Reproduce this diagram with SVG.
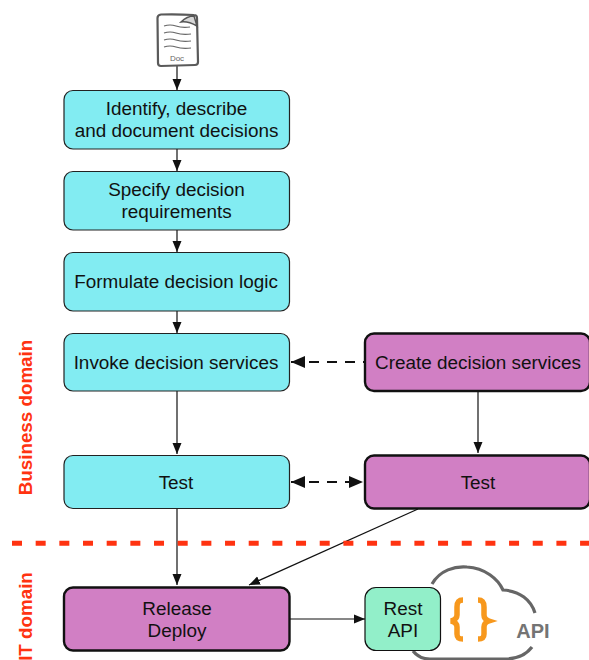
<svg xmlns="http://www.w3.org/2000/svg" width="589" height="660" viewBox="0 0 589 660">
<style>
text{font-family:"Liberation Sans",Arial,sans-serif;fill:#111}
.t{font-size:18.9px;text-anchor:middle}
.b{fill:#82ecf2;stroke:#222;stroke-width:1.2}
.p{fill:#d17fc4;stroke:#111;stroke-width:2.4}
.c{fill:none;stroke:#111;stroke-width:1.2}
.d{fill:none;stroke:#111;stroke-width:2;stroke-dasharray:10 8}
.r{font-size:18.8px;font-weight:bold;fill:#ff3311;text-anchor:middle}
</style>
<defs>
<marker id="a" markerUnits="userSpaceOnUse" markerWidth="12" markerHeight="12" refX="11" refY="5" orient="auto"><path d="M0 0.500L11 5L0 9.500Z" fill="#111"/></marker>
<marker id="s" markerUnits="userSpaceOnUse" markerWidth="16" markerHeight="14" refX="0" refY="7" orient="auto"><path d="M14 1L0 7L14 13Z" fill="#111"/></marker>
<marker id="e" markerUnits="userSpaceOnUse" markerWidth="16" markerHeight="14" refX="14" refY="7" orient="auto"><path d="M0 1L14 7L0 13Z" fill="#111"/></marker>
</defs>
<g id="connectors">
<path class="c" marker-end="url(#a)" d="M177 66V90"/>
<path class="c" marker-end="url(#a)" d="M177 149V171"/>
<path class="c" marker-end="url(#a)" d="M177 230V252"/>
<path class="c" marker-end="url(#a)" d="M177 311V333"/>
<path class="c" marker-end="url(#a)" d="M177 391V454"/>
<path class="c" marker-end="url(#a)" d="M177 509V585"/>
<path class="c" marker-end="url(#a)" d="M478 391V453"/>
<path class="c" marker-end="url(#a)" d="M418 509L249 585"/>
<path class="c" marker-end="url(#a)" d="M290 619H365"/>
<path class="d" marker-start="url(#s)" d="M291 362H365"/>
<path class="d" marker-start="url(#s)" marker-end="url(#e)" d="M291 482H363"/>
</g>
<g id="doc">
<path d="M161 14.500Q177 14 194 15Q197 15 197 18L198 62Q198 65 195 65L161 66Q158 66 158 63L157.500 18Q157.500 15 161 14.500Z" fill="#fff" stroke="#5a5a5a" stroke-width="2.200" stroke-linejoin="round"/>
<path d="M181 22Q187 16 194 16L197 26Q188 21 181 22Z" fill="#d8d8d8" stroke="#555" stroke-width="1.500"/>
<path d="M164 26Q170 24 176 26T190 27M164 33Q170 31 176 33T191 34M164 40Q170 38 176 40T191 41M164 47Q170 45 176 47T191 48" fill="none" stroke="#666" stroke-width="1.200"/>
<text x="177" y="61" font-size="8" text-anchor="middle" style="fill:#666">Doc</text>
</g>
<g id="n1"><rect class="b" x="64" y="90.500" width="225.500" height="58.500" rx="9"/><text class="t" x="176.500" y="114.500">Identify, describe</text><text class="t" x="176.500" y="136.500">and document decisions</text></g>
<g id="n2"><rect class="b" x="64" y="171.500" width="225.500" height="58.500" rx="9"/><text class="t" x="176.500" y="195.500">Specify decision</text><text class="t" x="176.500" y="217.500">requirements</text></g>
<g id="n3"><rect class="b" x="64" y="252.500" width="225.500" height="58.500" rx="9"/><text class="t" x="176" y="287.500">Formulate decision logic</text></g>
<g id="n4"><rect class="b" x="64" y="333.500" width="225.500" height="57.500" rx="9"/><text class="t" x="176" y="368.500">Invoke decision services</text></g>
<g id="n5"><rect class="b" x="64" y="455.500" width="225.500" height="53" rx="9"/><text class="t" x="176" y="488.500">Test</text></g>
<g id="n6"><rect class="p" x="365" y="333.500" width="225" height="57.500" rx="9"/><text class="t" x="478" y="368.500">Create decision services</text></g>
<g id="n7"><rect class="p" x="365" y="455.500" width="225" height="53" rx="9"/><text class="t" x="478" y="488.500">Test</text></g>
<g id="n8"><rect class="p" x="64" y="587.500" width="225.500" height="63" rx="9"/><text class="t" x="177" y="614.500">Release</text><text class="t" x="177" y="636.500">Deploy</text></g>
<g id="api">
<path d="M432 584C440 570 455 566 467 567C485 568 498 579 503 590C520 591 531 600 535 613M532 647C526 655 517 659 505 659H430C422 659 417 656 413 651" fill="none" stroke="#666" stroke-width="3.200"/>
<path d="M463 600C458 600 457 603 457 607V615C457 618 455 620 451 621C455 622 457 624 457 627V634C457 637 458 639 463 639" fill="none" stroke="#f7981d" stroke-width="5.500"/>
<path d="M478 600C483 600 484 603 484 607V615C484 618 486 620 489 621C486 622 484 624 484 627V634C484 637 483 639 478 639" fill="none" stroke="#f7981d" stroke-width="5.500"/>
<text x="533" y="638" font-size="20" font-weight="bold" text-anchor="middle" style="fill:#747474">API</text>
</g>
<g id="n9"><rect x="365" y="587.500" width="75.500" height="63" rx="11" fill="#92efc9" stroke="#111" stroke-width="1.200"/><text class="t" x="403" y="614.500">Rest</text><text class="t" x="403" y="636.500">API</text></g>
<path d="M12 543.300H589" fill="none" stroke="#ff3311" stroke-width="5" stroke-dasharray="10 13.670"/>
<text class="r" transform="translate(32 417.500) rotate(-90)">Business domain</text>
<text class="r" transform="translate(32 616.500) rotate(-90)">IT domain</text>
</svg>
